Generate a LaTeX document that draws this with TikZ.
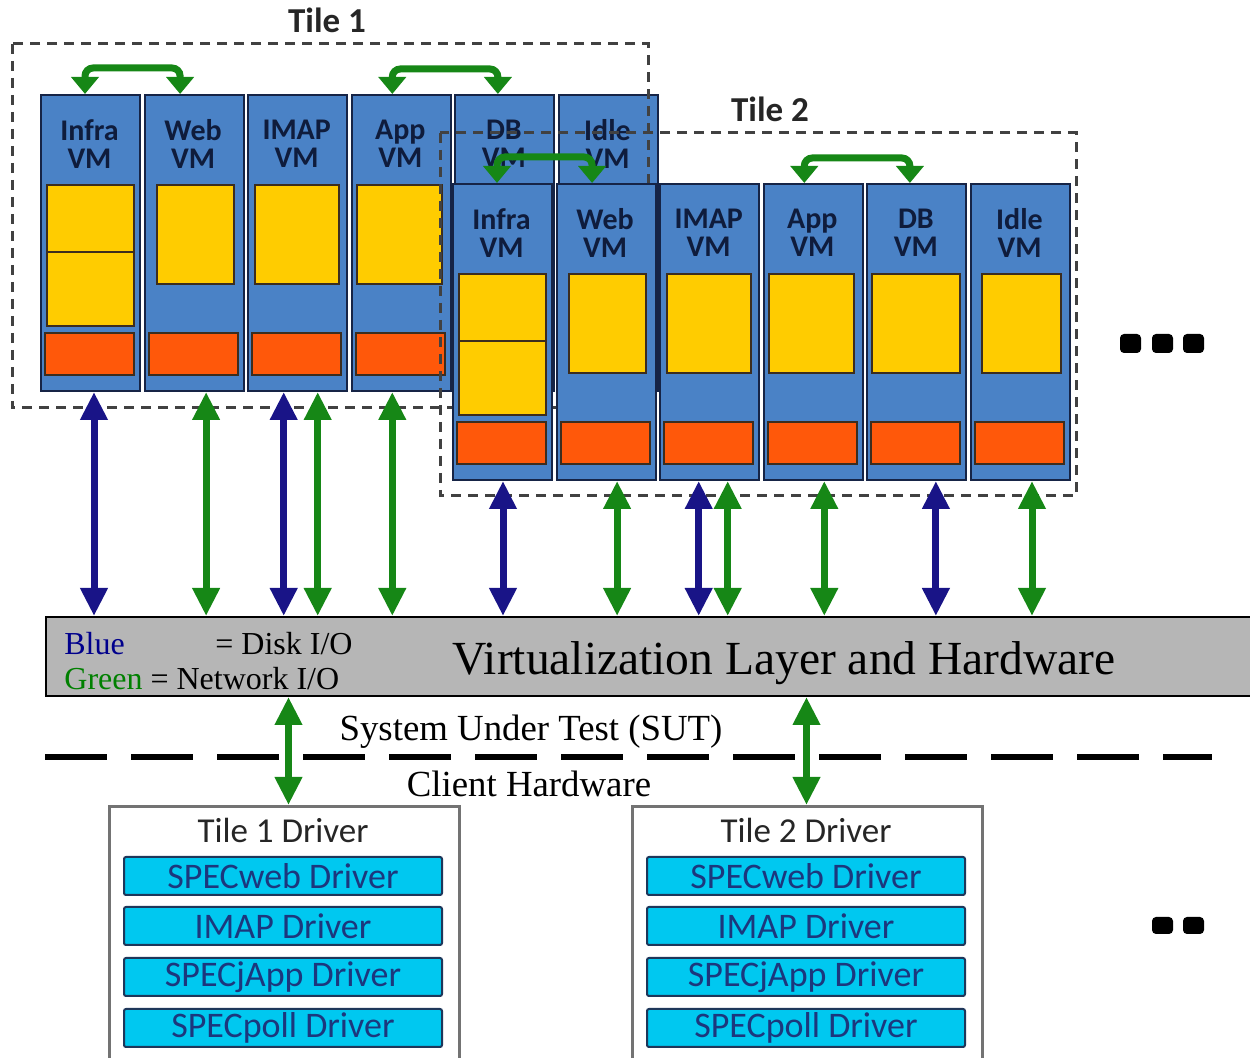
\documentclass[tikz,border=0pt]{standalone}
\usepackage{fontspec}
\setmainfont{Liberation Serif}
\newfontfamily\calibri{Carlito}
\usetikzlibrary{arrows.meta}

\definecolor{vmblue}{RGB}{74,130,198}
\definecolor{vmedge}{RGB}{22,36,70}
\definecolor{cpuyellow}{RGB}{255,204,0}
\definecolor{nicorange}{RGB}{255,88,10}
\definecolor{boxedge}{RGB}{60,45,30}
\definecolor{netgreen}{RGB}{22,135,22}
\definecolor{disknavy}{RGB}{25,20,135}
\definecolor{layergray}{RGB}{182,182,182}
\definecolor{drvcyan}{RGB}{0,200,240}
\definecolor{drvtext}{RGB}{28,55,125}
\definecolor{drvedge}{RGB}{30,55,90}
\definecolor{labelnavy}{RGB}{15,28,60}
\definecolor{tiledash}{RGB}{65,65,65}
\definecolor{legendblue}{RGB}{0,0,140}
\definecolor{legendgreen}{RGB}{0,128,0}

% VMs of one tile: Infra, Web, IMAP, App, DB, Idle
\newcommand\tilevms[1]{%
  \foreach \i/\nm/\lab/\yl/\yr in {0/infra/Infra/7/5, 1/web/Web/13/9, 2/imap/IMAP/8/7,
                                   3/app/App/6/8, 4/db/DB/6/5, 5/idle/Idle/12/8}{%
    \pgfmathsetmacro\xl{40+103.6*\i}
    \node[vm] (#1-\nm) at (\xl,94) {};
    \node[vmlabel] (#1-\nm-label) at (\xl+49.5,144) {\lab\\VM};
    \ifnum\i=0
      \draw[cpu] (\xl+\yl,185) rectangle (\xl+99-\yr,252);
      \draw[cpu] (\xl+\yl,252) rectangle (\xl+99-\yr,326);
    \else
      \draw[cpu] (\xl+\yl,185) rectangle (\xl+99-\yr,284);
    \fi
    \draw[nic] (\xl+5,333) rectangle (\xl+94,375);
  }%
}

% network links between VMs inside a tile
\newcommand\tilelinks[1]{%
  \draw[vmlink] ([xshift=-2.75pt]#1-infra.north) -- ++(0,-26) -| ([xshift=-7pt]#1-web.north);
  \draw[vmlink] ([xshift=-4.5pt]#1-app.north) -- ++(0,-25) -| ([xshift=-3.5pt]#1-db.north);
}

\begin{document}
\begin{tikzpicture}[x=0.5pt,y=-0.5pt,
  vm/.style={draw=vmedge, line width=1pt, fill=vmblue, anchor=north west,
    minimum width=49.5pt, minimum height=148pt, inner sep=0pt},
  vmlabel/.style={font=\calibri\bfseries\fontsize{15}{14}\selectfont, text=labelnavy,
    align=center, inner sep=0pt},
  cpu/.style={draw=boxedge, line width=1pt, fill=cpuyellow},
  nic/.style={draw=boxedge, line width=1pt, fill=nicorange},
  tilebox/.style={draw=tiledash, line width=1.5pt, dash pattern=on 5pt off 3.5pt},
  tiletitle/.style={font=\calibri\bfseries\fontsize{17.5}{20}\selectfont, text=black!85, anchor=base},
  vmlink/.style={draw=netgreen, line width=3.5pt, rounded corners=4pt,
    {Triangle[width=13.5pt,length=8.5pt]}-{Triangle[width=13.5pt,length=8.5pt]}},
  disk/.style={draw=disknavy, line width=3.5pt,
    {Triangle[width=13pt,length=14pt]}-{Triangle[width=13pt,length=14pt]}},
  net/.style={draw=netgreen, line width=3.5pt,
    {Triangle[width=13pt,length=14pt]}-{Triangle[width=13pt,length=14pt]}},
  layer/.style={draw=black, line width=1pt, fill=layergray, anchor=north west,
    minimum width=605pt, minimum height=39.5pt, inner sep=0pt},
  drvframe/.style={draw=black!55, line width=1.5pt, fill=white, anchor=north west,
    minimum width=175pt, minimum height=132pt, inner sep=0pt},
  drvtitle/.style={font=\calibri\fontsize{17.5}{20}\selectfont, text=black!85, anchor=base},
  drvitem/.style={draw=drvedge, line width=1pt, fill=drvcyan, rounded corners=1pt,
    minimum width=159pt, minimum height=19pt, inner sep=0pt,
    font=\calibri\fontsize{18}{20}\selectfont, text=drvtext},
  dots/.style={fill=black, rounded corners=2pt}
]
\useasboundingbox (0,0) rectangle (1250,1058);

% ---- Tile 1 ----
\tilevms{t1}
\draw[tilebox] (12,44) rectangle (648,408);
\node[tiletitle] (tile1-title) at (327,33) {Tile 1};
\tilelinks{t1}

% ---- Tile 2 ----
\draw[tilebox] (440,133) rectangle (1076,496);
\node[tiletitle] (tile2-title) at (770,122) {Tile 2};
\begin{scope}[shift={(412,89)}]
  \tilevms{t2}
  \tilelinks{t2}
\end{scope}

% more tiles
\fill[dots] (1120,334) rectangle (1141,353);
\fill[dots] (1152,334) rectangle (1173,353);
\fill[dots] (1183,334) rectangle (1204,353);

% ---- virtualization layer ----
\node[layer] (layer) at (45,616) {};
\node[anchor=base, font=\fontsize{23.75}{26}\selectfont] (layer-title) at (784,675)
  {Virtualization Layer and Hardware};
\node[anchor=base west, inner sep=0pt, font=\fontsize{16}{18}\selectfont, text=legendblue]
  (legend-blue) at (64,655) {Blue};
\node[anchor=base west, inner sep=0pt, font=\fontsize{16}{18}\selectfont]
  (legend-disk) at (215,655) {= Disk I/O};
\node[anchor=base west, inner sep=0pt, font=\fontsize{16}{18}\selectfont]
  (legend-net) at (64,690) {\textcolor{legendgreen}{Green} = Network I/O};

% disk and network I/O of the VMs
\draw[disk] ([xshift=1.75pt]t1-infra.south) -- ([xshift=1.75pt]t1-infra.south |- layer.north);
\draw[net]  ([xshift=6pt]t1-web.south)      -- ([xshift=6pt]t1-web.south |- layer.north);
\draw[disk] ([xshift=-7pt]t1-imap.south)    -- ([xshift=-7pt]t1-imap.south |- layer.north);
\draw[net]  ([xshift=10pt]t1-imap.south)    -- ([xshift=10pt]t1-imap.south |- layer.north);
\draw[net]  ([xshift=-4.5pt]t1-app.south)   -- ([xshift=-4.5pt]t1-app.south |- layer.north);

\draw[disk] ([xshift=0.25pt]t2-infra.south) -- ([xshift=0.25pt]t2-infra.south |- layer.north);
\draw[net]  ([xshift=5.5pt]t2-web.south)    -- ([xshift=5.5pt]t2-web.south |- layer.north);
\draw[disk] ([xshift=-5.5pt]t2-imap.south)  -- ([xshift=-5.5pt]t2-imap.south |- layer.north);
\draw[net]  ([xshift=9pt]t2-imap.south)     -- ([xshift=9pt]t2-imap.south |- layer.north);
\draw[net]  ([xshift=5.5pt]t2-app.south)    -- ([xshift=5.5pt]t2-app.south |- layer.north);
\draw[disk] ([xshift=9.5pt]t2-db.south)     -- ([xshift=9.5pt]t2-db.south |- layer.north);
\draw[net]  ([xshift=5.75pt]t2-idle.south)  -- ([xshift=5.75pt]t2-idle.south |- layer.north);

% ---- SUT / client boundary ----
\node[anchor=base, font=\fontsize{18.4}{20}\selectfont] (sut) at (531,741) {System Under Test (SUT)};
\draw[line width=3pt, dash pattern=on 31pt off 12pt] (45,757) -- (1212,757);
\node[anchor=base, font=\fontsize{18.4}{20}\selectfont] (client) at (529,797) {Client Hardware};

% ---- drivers ----
\node[drvframe] (drv1) at (108,805) {};
\node[drvtitle] (drv1-title) at (283,843) {Tile 1 Driver};
\node[drvitem] (drv1-web)  at (283,876)  {SPECweb Driver};
\node[drvitem] (drv1-imap) at (283,926)  {IMAP Driver};
\node[drvitem] (drv1-app)  at (283,977)  {SPECjApp Driver};
\node[drvitem] (drv1-poll) at (283,1028) {SPECpoll Driver};

\node[drvframe] (drv2) at (631,805) {};
\node[drvtitle] (drv2-title) at (806,843) {Tile 2 Driver};
\node[drvitem] (drv2-web)  at (806,876)  {SPECweb Driver};
\node[drvitem] (drv2-imap) at (806,926)  {IMAP Driver};
\node[drvitem] (drv2-app)  at (806,977)  {SPECjApp Driver};
\node[drvitem] (drv2-poll) at (806,1028) {SPECpoll Driver};

\draw[net] ([xshift=2pt]drv1.north |- layer.south) -- ([xshift=2pt]drv1.north);
\draw[net] ([xshift=-0.5pt]drv2.north |- layer.south) -- ([xshift=-0.5pt]drv2.north);

\fill[dots] (1152,917) rectangle (1173,934);
\fill[dots] (1183,917) rectangle (1204,934);
\end{tikzpicture}
\end{document}
